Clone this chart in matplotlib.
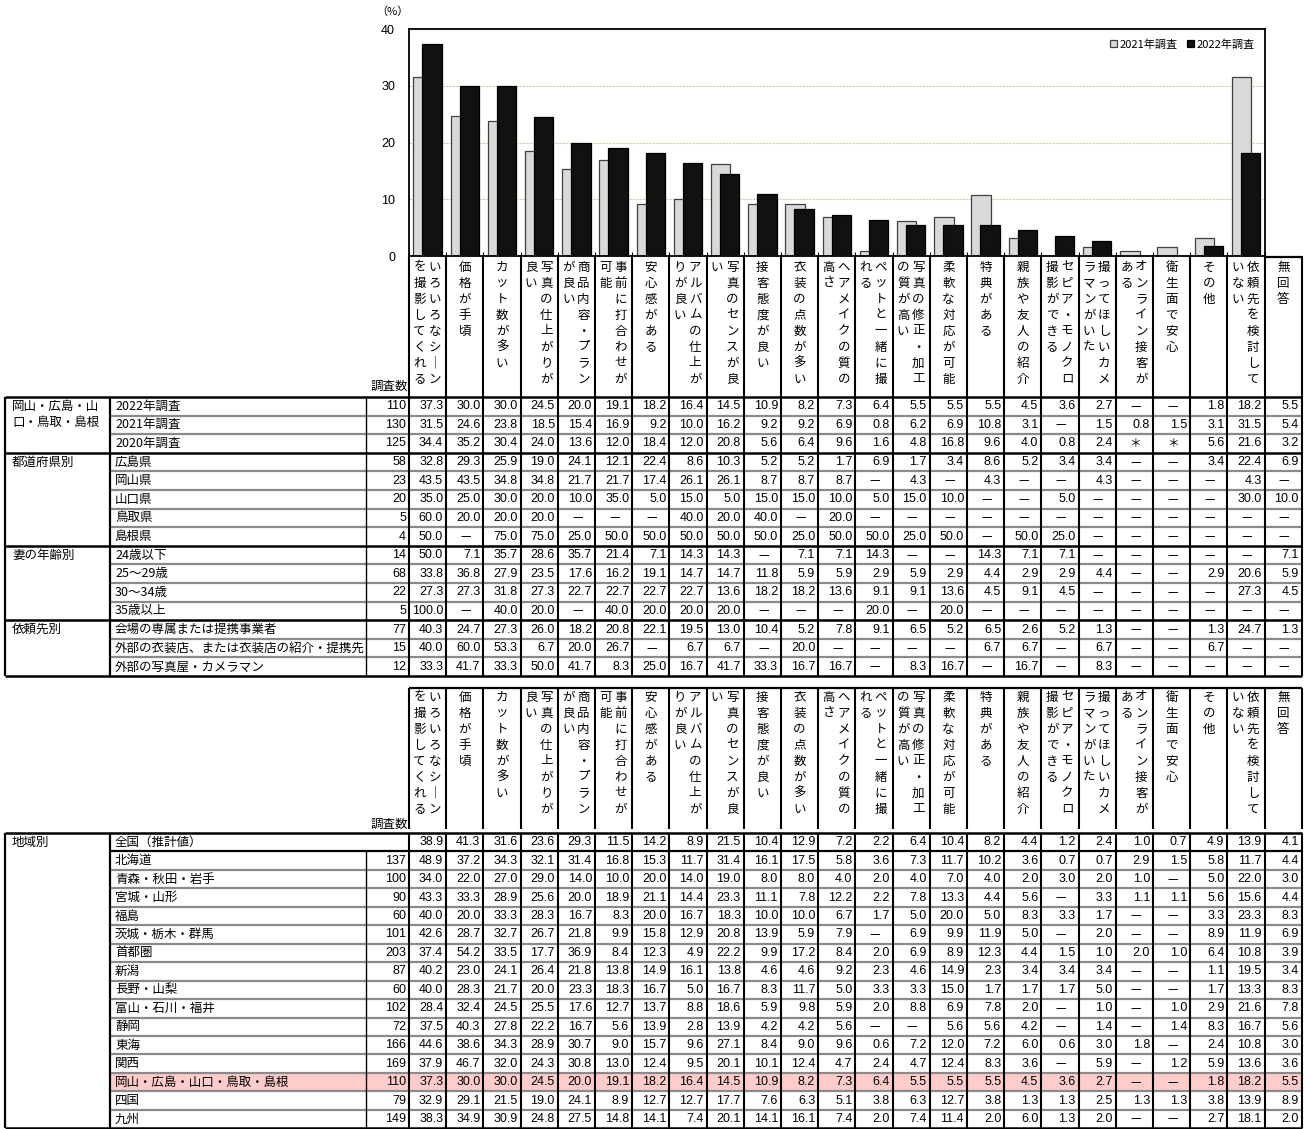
import numpy as np
import matplotlib.pyplot as plt

W, H = 1308, 1129

JP = ['Noto Sans CJK JP', 'DejaVu Sans']
NUM = ['Liberation Sans Narrow', 'Liberation Sans', 'Noto Sans CJK JP']

# ── Data ──────────────────────────────────────────────────────────────────────

# column headers: (right text column, left text column) in vertical writing
columns = [
    ('いろいろなシーン', 'を撮影してくれる'),
    ('価格が手頃', ''),
    ('カット数が多い', ''),
    ('写真の仕上がりが', '良い'),
    ('商品内容・プラン', 'が良い'),
    ('事前に打合わせが', '可能'),
    ('安心感がある', ''),
    ('アルバムの仕上が', 'りが良い'),
    ('写真のセンスが良', 'い'),
    ('接客態度が良い', ''),
    ('衣装の点数が多い', ''),
    ('ヘアメイクの質の', '高さ'),
    ('ペットと一緒に撮', 'れる'),
    ('写真の修正・加工', 'の質が高い'),
    ('柔軟な対応が可能', ''),
    ('特典がある', ''),
    ('親族や友人の紹介', ''),
    ('セピア・モノクロ', '撮影ができる'),
    ('撮ってほしいカメ', 'ラマンがいた'),
    ('オンライン接客が', 'ある'),
    ('衛生面で安心', ''),
    ('その他', ''),
    ('依頼先を検討して', 'いない'),
    ('無回答', ''),
]

survey_labels = ['2022年調査', '2021年調査', '2020年調査']
survey_n = [110, 130, 125]
survey_vals = [
    '37.3 30.0 30.0 24.5 20.0 19.1 18.2 16.4 14.5 10.9 8.2 7.3 6.4 5.5 5.5 5.5 4.5 3.6 2.7 — — 1.8 18.2 5.5'.split(),
    '31.5 24.6 23.8 18.5 15.4 16.9 9.2 10.0 16.2 9.2 9.2 6.9 0.8 6.2 6.9 10.8 3.1 — 1.5 0.8 1.5 3.1 31.5 5.4'.split(),
    '34.4 35.2 30.4 24.0 13.6 12.0 18.4 12.0 20.8 5.6 6.4 9.6 1.6 4.8 16.8 9.6 4.0 0.8 2.4 ＊ ＊ 5.6 21.6 3.2'.split(),
]

pref_labels = ['広島県', '岡山県', '山口県', '鳥取県', '島根県']
pref_n = [58, 23, 20, 5, 4]
pref_vals = [
    '32.8 29.3 25.9 19.0 24.1 12.1 22.4 8.6 10.3 5.2 5.2 1.7 6.9 1.7 3.4 8.6 5.2 3.4 3.4 — — 3.4 22.4 6.9'.split(),
    '43.5 43.5 34.8 34.8 21.7 21.7 17.4 26.1 26.1 8.7 8.7 8.7 — 4.3 — 4.3 — — 4.3 — — — 4.3 —'.split(),
    '35.0 25.0 30.0 20.0 10.0 35.0 5.0 15.0 5.0 15.0 15.0 10.0 5.0 15.0 10.0 — — 5.0 — — — — 30.0 10.0'.split(),
    '60.0 20.0 20.0 20.0 — — — 40.0 20.0 40.0 — 20.0 — — — — — — — — — — — —'.split(),
    '50.0 — 75.0 75.0 25.0 50.0 50.0 50.0 50.0 50.0 25.0 50.0 50.0 25.0 50.0 — 50.0 25.0 — — — — — —'.split(),
]

age_labels = ['24歳以下', '25～29歳', '30～34歳', '35歳以上']
age_n = [14, 68, 22, 5]
age_vals = [
    '50.0 7.1 35.7 28.6 35.7 21.4 7.1 14.3 14.3 — 7.1 7.1 14.3 — — 14.3 7.1 7.1 — — — — — 7.1'.split(),
    '33.8 36.8 27.9 23.5 17.6 16.2 19.1 14.7 14.7 11.8 5.9 5.9 2.9 5.9 2.9 4.4 2.9 2.9 4.4 — — 2.9 20.6 5.9'.split(),
    '27.3 27.3 31.8 27.3 22.7 22.7 22.7 22.7 13.6 18.2 18.2 13.6 9.1 9.1 13.6 4.5 9.1 4.5 — — — — 27.3 4.5'.split(),
    '100.0 — 40.0 20.0 — 40.0 20.0 20.0 20.0 — — — 20.0 — 20.0 — — — — — — — — —'.split(),
]

source_labels = ['会場の専属または提携事業者', '外部の衣装店、または衣装店の紹介・提携先', '外部の写真屋・カメラマン']
source_n = [77, 15, 12]
source_vals = [
    '40.3 24.7 27.3 26.0 18.2 20.8 22.1 19.5 13.0 10.4 5.2 7.8 9.1 6.5 5.2 6.5 2.6 5.2 1.3 — — 1.3 24.7 1.3'.split(),
    '40.0 60.0 53.3 6.7 20.0 26.7 — 6.7 6.7 — 20.0 — — — — 6.7 6.7 — 6.7 — — 6.7 — —'.split(),
    '33.3 41.7 33.3 50.0 41.7 8.3 25.0 16.7 41.7 33.3 16.7 16.7 — 8.3 16.7 — 16.7 — 8.3 — — — — —'.split(),
]

region_labels = ['全国（推計値）', '北海道', '青森・秋田・岩手', '宮城・山形', '福島', '茨城・栃木・群馬',
                 '首都圏', '新潟', '長野・山梨', '富山・石川・福井', '静岡', '東海', '関西',
                 '岡山・広島・山口・鳥取・島根', '四国', '九州']
region_n = [None, 137, 100, 90, 60, 101, 203, 87, 60, 102, 72, 166, 169, 110, 79, 149]
region_vals = [
    '38.9 41.3 31.6 23.6 29.3 11.5 14.2 8.9 21.5 10.4 12.9 7.2 2.2 6.4 10.4 8.2 4.4 1.2 2.4 1.0 0.7 4.9 13.9 4.1'.split(),
    '48.9 37.2 34.3 32.1 31.4 16.8 15.3 11.7 31.4 16.1 17.5 5.8 3.6 7.3 11.7 10.2 3.6 0.7 0.7 2.9 1.5 5.8 11.7 4.4'.split(),
    '34.0 22.0 27.0 29.0 14.0 10.0 20.0 14.0 19.0 8.0 8.0 4.0 2.0 4.0 7.0 4.0 2.0 3.0 2.0 1.0 — 5.0 22.0 3.0'.split(),
    '43.3 33.3 28.9 25.6 20.0 18.9 21.1 14.4 23.3 11.1 7.8 12.2 2.2 7.8 13.3 4.4 5.6 — 3.3 1.1 1.1 5.6 15.6 4.4'.split(),
    '40.0 20.0 33.3 28.3 16.7 8.3 20.0 16.7 18.3 10.0 10.0 6.7 1.7 5.0 20.0 5.0 8.3 3.3 1.7 — — 3.3 23.3 8.3'.split(),
    '42.6 28.7 32.7 26.7 21.8 9.9 15.8 12.9 20.8 13.9 5.9 7.9 — 6.9 9.9 11.9 5.0 — 2.0 — — 8.9 11.9 6.9'.split(),
    '37.4 54.2 33.5 17.7 36.9 8.4 12.3 4.9 22.2 9.9 17.2 8.4 2.0 6.9 8.9 12.3 4.4 1.5 1.0 2.0 1.0 6.4 10.8 3.9'.split(),
    '40.2 23.0 24.1 26.4 21.8 13.8 14.9 16.1 13.8 4.6 4.6 9.2 2.3 4.6 14.9 2.3 3.4 3.4 3.4 — — 1.1 19.5 3.4'.split(),
    '40.0 28.3 21.7 20.0 23.3 18.3 16.7 5.0 16.7 8.3 11.7 5.0 3.3 3.3 15.0 1.7 1.7 1.7 5.0 — — 1.7 13.3 8.3'.split(),
    '28.4 32.4 24.5 25.5 17.6 12.7 13.7 8.8 18.6 5.9 9.8 5.9 2.0 8.8 6.9 7.8 2.0 — 1.0 — 1.0 2.9 21.6 7.8'.split(),
    '37.5 40.3 27.8 22.2 16.7 5.6 13.9 2.8 13.9 4.2 4.2 5.6 — — 5.6 5.6 4.2 — 1.4 — 1.4 8.3 16.7 5.6'.split(),
    '44.6 38.6 34.3 28.9 30.7 9.0 15.7 9.6 27.1 8.4 9.0 9.6 0.6 7.2 12.0 7.2 6.0 0.6 3.0 1.8 — 2.4 10.8 3.0'.split(),
    '37.9 46.7 32.0 24.3 30.8 13.0 12.4 9.5 20.1 10.1 12.4 4.7 2.4 4.7 12.4 8.3 3.6 — 5.9 — 1.2 5.9 13.6 3.6'.split(),
    '37.3 30.0 30.0 24.5 20.0 19.1 18.2 16.4 14.5 10.9 8.2 7.3 6.4 5.5 5.5 5.5 4.5 3.6 2.7 — — 1.8 18.2 5.5'.split(),
    '32.9 29.1 21.5 19.0 24.1 8.9 12.7 12.7 17.7 7.6 6.3 5.1 3.8 6.3 12.7 3.8 1.3 1.3 2.5 1.3 1.3 3.8 13.9 8.9'.split(),
    '38.3 34.9 30.9 24.8 27.5 14.8 14.1 7.4 20.1 14.1 16.1 7.4 2.0 7.4 11.4 2.0 6.0 1.3 2.0 — — 2.7 18.1 2.0'.split(),
]
HIGHLIGHT_ROW = 13

# ── Layout (pixels, origin top-left) ─────────────────────────────────────────

X_LEFT, X_CAT, X_N, X0 = 5, 110, 366, 409
CW = 37.2
XR = X0 + 24 * CW
N_BARS = 23

CHART_TOP, CHART_BOT = 29, 256
TOP_ROWS_Y, TOP_RH = 397, 18.6
BOT_HEAD_Y, BOT_ROWS_Y, BOT_RH = 688, 833, 18.45

GRID_COLOR = '#d6ccaa'
ROW_LINE = '#8a8a8a'


def to_num(s):
    try:
        return float(s)
    except ValueError:
        return 0.0


fig = plt.figure(figsize=(W / 100, H / 100), dpi=100)
fig.patch.set_facecolor('white')

tab = fig.add_axes([0, 0, 1, 1])
tab.set_xlim(0, W)
tab.set_ylim(H, 0)
tab.axis('off')

# ── Bar chart ────────────────────────────────────────────────────────────────

ax = fig.add_axes([X0 / W, 1 - CHART_BOT / H, N_BARS * CW / W, (CHART_BOT - CHART_TOP) / H])
x = np.arange(N_BARS) + 0.5
v2021 = np.array([to_num(v) for v in survey_vals[1][:N_BARS]])
v2022 = np.array([to_num(v) for v in survey_vals[0][:N_BARS]])

ax.bar(x - 0.12, v2021, 0.52, color='#d9d9d9', edgecolor='#404040', linewidth=0.9,
       label='2021年調査', zorder=2)
ax.bar(x + 0.12, v2022, 0.52, color='#111111', edgecolor='#000000', linewidth=0.9,
       label='2022年調査', zorder=3)

ax.set_xlim(0, N_BARS)
ax.set_ylim(0, 40)
ax.set_yticks([0, 10, 20, 30, 40])
ax.set_xticks(np.arange(N_BARS + 1))
ax.set_xticklabels([])
ax.tick_params(axis='x', direction='in', length=3, width=0.8)
ax.tick_params(axis='y', length=0, pad=10, labelsize=9)
for lab in ax.get_yticklabels():
    lab.set_family(['Liberation Sans', 'DejaVu Sans'])
ax.yaxis.grid(True, color=GRID_COLOR, linestyle=(0, (2, 1)), linewidth=0.8, zorder=0)
ax.set_axisbelow(True)
for sp in ax.spines.values():
    sp.set_linewidth(1.3)
    sp.set_color('black')

ax.legend(loc='upper right', ncol=2, frameon=False, prop={'family': JP, 'size': 8},
          handlelength=0.6, handleheight=0.6, handletextpad=0.2, columnspacing=0.9,
          borderaxespad=0.5)
tab.text(392, 12, '（%）', ha='center', va='center', fontsize=8, family=JP)

# ── Table helpers ─────────────────────────────────────────────────────────────


def header(y_top, y_first):
    """Vertical-text column headers plus their cell borders."""
    for i, (right, left) in enumerate(columns):
        cx = X0 + (i + 0.5) * CW
        parts = [(cx + 7, right), (cx - 8, left)] if left else [(cx, right)]
        for px, s in parts:
            for k, ch in enumerate(s.replace('ー', '｜')):
                tab.text(px, y_first + k * 16, ch, ha='center', va='center',
                         fontsize=9, family=JP)
    for k in range(25):
        tab.vlines(X0 + k * CW, y_top, y_top + 141, color='black', lw=1.5)


def cell_text(col, yc, s):
    xr = X0 + (col + 1) * CW
    if s in ('—', '＊'):
        tab.text(xr - CW / 2 + 1, yc, s, ha='center', va='center', fontsize=8.5, family=JP)
    else:
        tab.text(xr - 3, yc, s, ha='right', va='center', fontsize=9, family=NUM)


def draw_row(y, rh, label, n, vals):
    yc = y + rh / 2
    tab.text(115, yc, label, ha='left', va='center', fontsize=9, family=JP)
    if n is not None:
        tab.text(X0 - 3, yc, str(n), ha='right', va='center', fontsize=9, family=NUM)
    for j, s in enumerate(vals):
        cell_text(j, yc, s)


def verticals(y0, y1, with_n=True):
    tab.vlines([X_LEFT, X_CAT], y0, y1, color='black', lw=1.6)
    if with_n:
        tab.vlines(X_N, y0, y1, color='black', lw=1.0)
    for k in range(25):
        tab.vlines(X0 + k * CW, y0, y1, color='black', lw=1.5)


# ── Top table ─────────────────────────────────────────────────────────────────

header(CHART_BOT, 267)
tab.hlines(CHART_BOT + 1, X0 + 23 * CW, XR, color='black', lw=1.6)
tab.text(X0 - 1, 386, '調査数', ha='right', va='center', fontsize=9, family=JP)

top_groups = [
    (['岡山・広島・山', '口・鳥取・島根'], survey_labels, survey_n, survey_vals),
    (['都道府県別'], pref_labels, pref_n, pref_vals),
    (['妻の年齢別'], age_labels, age_n, age_vals),
    (['依頼先別'], source_labels, source_n, source_vals),
]

y = TOP_ROWS_Y
tab.hlines(y, X_LEFT, XR, color='black', lw=1.8)
for cat_lines, labels, ns, vals in top_groups:
    for k, line in enumerate(cat_lines):
        tab.text(12, y + TOP_RH / 2 + k * 16.5, line, ha='left', va='center',
                 fontsize=9, family=JP)
    for r, (lab, n, v) in enumerate(zip(labels, ns, vals)):
        draw_row(y, TOP_RH, lab, n, v)
        y += TOP_RH
        if r < len(labels) - 1:
            tab.hlines(y, X_CAT, XR, color=ROW_LINE, lw=1.6)
    tab.hlines(y, X_LEFT, XR, color='black', lw=1.8)
verticals(TOP_ROWS_Y, y)

# ── Bottom table ──────────────────────────────────────────────────────────────

header(BOT_HEAD_Y, 697)
tab.hlines(BOT_HEAD_Y, X0, XR, color='black', lw=1.6)
tab.text(X0 - 1, 824, '調査数', ha='right', va='center', fontsize=9, family=JP)

y = BOT_ROWS_Y
tab.hlines(y, X_LEFT, XR, color='black', lw=1.8)
tab.text(12, y + BOT_RH / 2, '地域別', ha='left', va='center', fontsize=9, family=JP)
for r, (lab, n, v) in enumerate(zip(region_labels, region_n, region_vals)):
    if r == HIGHLIGHT_ROW:
        tab.fill_between([X_CAT, XR], y, y + BOT_RH, color='#ffcccc', lw=0, zorder=0)
    draw_row(y, BOT_RH, lab, n, v)
    y += BOT_RH
    if r == 0:
        tab.hlines(y, X_CAT, XR, color='black', lw=1.6)
    elif r < len(region_labels) - 1:
        tab.hlines(y, X_CAT, XR, color=ROW_LINE, lw=1.6)
y_end = min(y, H - 1.5)
tab.hlines(y_end, X_LEFT, XR, color='black', lw=1.8)
verticals(BOT_ROWS_Y, y_end, with_n=False)
tab.vlines(X_N, BOT_ROWS_Y + BOT_RH, y_end, color='black', lw=1.0)

fig.savefig('out.png', dpi=100)
